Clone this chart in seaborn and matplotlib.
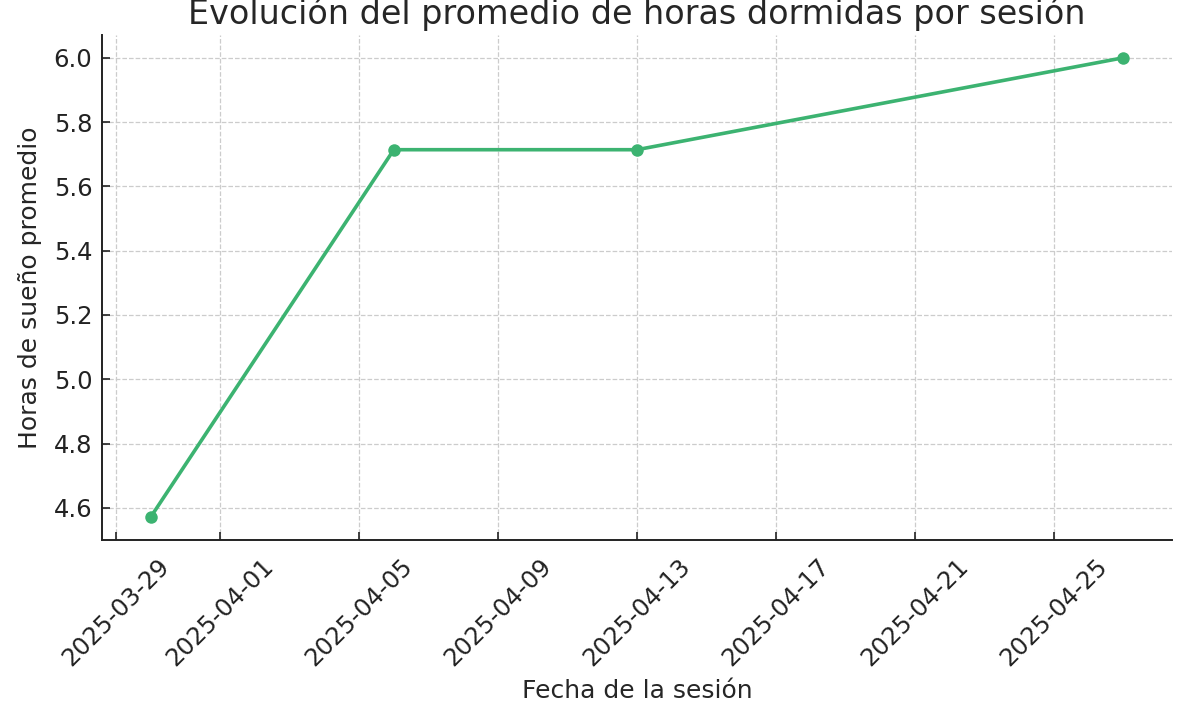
import matplotlib
matplotlib.use("Agg")
import matplotlib.pyplot as plt
import seaborn as sns
import pandas as pd

# Datos de las sesiones
fechas = ["2025-03-30", "2025-04-06", "2025-04-13", "2025-04-27"]
horas_promedio = [4.571, 5.714, 5.714, 6.0]

sns.set_style("whitegrid")
plt.rcParams['font.family'] = ['DejaVu Sans']

df = pd.DataFrame({'fecha': pd.to_datetime(fechas), 'horas': horas_promedio})

fig = plt.figure(figsize=(11.83, 7.05), dpi=100)
ax = fig.add_axes([0.0862, 0.234, 0.9045, 0.716])

sns.lineplot(data=df, x='fecha', y='horas', marker='o', color='#3cb371',
             linewidth=2.6, markersize=9, markeredgewidth=0, ax=ax)

ax.set_title("Evolución del promedio de horas dormidas por sesión", fontsize=24,
             color='#262626', pad=8)
ax.set_xlabel("Fecha de la sesión", fontsize=18, color='#262626', labelpad=6)
ax.set_ylabel("Horas de sueño promedio", fontsize=18, color='#262626', labelpad=8)

ax.grid(True, linestyle='--', color='#cccccc', linewidth=0.9)
for s in ['top', 'right']:
    ax.spines[s].set_visible(False)
for s in ['left', 'bottom']:
    ax.spines[s].set_color('#222222')
    ax.spines[s].set_linewidth(1.4)

ax.tick_params(axis='both', direction='in', length=6, width=1.2,
               labelsize=17.5, colors='#222222', left=True, bottom=True)
ax.tick_params(axis='y', pad=7)
ax.tick_params(axis='x', pad=10)
plt.setp(ax.get_xticklabels(), rotation=45, ha='center')
ax.set_ylim(4.5, 6.07)

fig.savefig("out.png", dpi=100)
plt.close(fig)
